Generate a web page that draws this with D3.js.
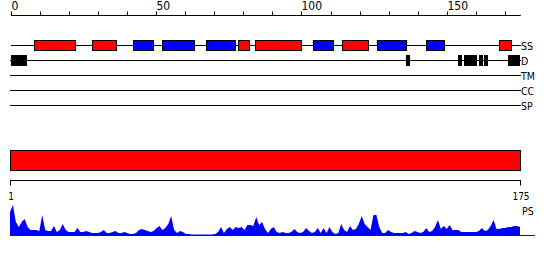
<!DOCTYPE html>
<html><head><meta charset="utf-8">
<script src="https://cdn.jsdelivr.net/npm/d3@7"></script>
<style>
html,body{margin:0;padding:0;background:#fff;}
svg text{font-family:"DejaVu Sans Condensed","DejaVu Sans",sans-serif;fill:#000;}
</style></head>
<body><svg id="c" width="550" height="260"></svg>
<script>
// ---- data ----
const seqLength = 175;
const topTicks = d3.range(0, 171, 10);
const topTickLabels = [0, 50, 100, 150];
const trackNames = ["SS", "D", "TM", "CC", "SP"];
// secondary structure segments (residue start, end, type)
const ssStart = [9, 29, 43, 53, 68, 79, 85, 105, 115, 127, 144, 169];
const ssEnd   = [22, 36, 49, 63, 77, 82, 100, 111, 123, 136, 149, 172];
const ssType  = ["H","H","E","E","E","H","H","E","H","E","E","H"];
// disorder segments
const dStart = [1, 137, 155, 157, 162, 164, 172];
const dEnd   = [5, 137, 155, 160, 162, 164, 175];
// domain bar
const domainStart = 1, domainEnd = 175;
const bottomTickLabels = [1, 175];
// PS profile score per residue
const psScore = [
 24,31,14,9,14,17,9,6,6,6,
 5,21,6,5,5,10,4,6,12,6,
 4,4,4,8,4,4,5,4,3,3,
 3,4,6,3,3,4,5,3,3,4,
 3,2,2,3,6,7,6,5,4,5,
 8,10,6,8,12,20,6,3,5,4,
 2,2,1.5,1.5,1.5,1.5,1.5,1.5,1.5,1.5,
 2,4,9,3,7,9,6,9,8,9,
 6,11,11,10,19,11,14,7,3,7,
 9,4,3,4,3,3,4,7,4,3,
 4,8,5,3,4,8,3,8,3,9,
 4,2,3,12,6,4,10,6,7,12,
 20,12,9,6,21,21,9,3,3,6,
 4,3,3,3,3,4,2,3,5,4,
 3,4,8,4,5,9,16,7,10,7,
 11,6,6,6,4,4,4,4,4,4,
 5,8,5,6,10,16,7,7,8,8,
 9,9,10,10,9
];
const psMax = 31;

// ---- drawing ----
const svg = d3.select("#c");
const xTop = d3.scaleLinear().domain([0, 175.5]).range([11, 520.8]);
const xBot = d3.scaleLinear().domain([1, seqLength]).range([10, 520]);
const trackY = d3.scalePoint().domain(trackNames).range([45, 105]);
const typeColor = {H: "#ff0000", E: "#0000ff"};

// top axis
const gTop = svg.append("g").attr("transform", "translate(0,15.5)");
gTop.append("line").attr("x1", xTop(0)).attr("x2", xTop(175.5)).attr("stroke", "#000");
gTop.selectAll("line.t").data(topTicks).join("line").attr("class", "t")
  .attr("x1", d => Math.round(xTop(d)) + 0.5).attr("x2", d => Math.round(xTop(d)) + 0.5)
  .attr("y1", 0).attr("y2", -4).attr("stroke", "#000");
gTop.selectAll("text").data(topTickLabels).join("text")
  .attr("x", d => Math.round(xTop(d)) + 0.5).attr("y", -5.5)
  .attr("font-size", 12).text(d => d);

// track baselines
svg.selectAll("line.track").data(trackNames).join("line").attr("class", "track")
  .attr("x1", d => d === "SS" ? 11 : 10).attr("x2", 521)
  .attr("y1", d => trackY(d) + 0.5).attr("y2", d => trackY(d) + 0.5)
  .attr("stroke", "#000");
svg.selectAll("text.track").data(trackNames).join("text").attr("class", "track")
  .attr("x", 521).attr("y", d => trackY(d) + 4.5)
  .attr("font-size", 10.5).text(d => d);

// SS boxes
const ss = ssStart.map((s, i) => ({s, e: ssEnd[i], t: ssType[i]}));
svg.selectAll("rect.ss").data(ss).join("rect").attr("class", "ss")
  .attr("x", d => Math.round(xTop(d.s - 1)) + 0.5)
  .attr("width", d => Math.round(xTop(d.e)) - Math.round(xTop(d.s - 1)))
  .attr("y", trackY("SS") - 4.5).attr("height", 10)
  .attr("fill", d => typeColor[d.t]).attr("stroke", "#000");

// disorder boxes
const dis = dStart.map((s, i) => ({s, e: dEnd[i]}));
svg.selectAll("rect.d").data(dis).join("rect").attr("class", "d")
  .attr("x", d => Math.round(xTop(d.s - 1)) + 0.5)
  .attr("width", d => Math.max(2, Math.round(xTop(d.e)) - Math.round(xTop(d.s - 1))))
  .attr("y", trackY("D") - 4.5).attr("height", 10)
  .attr("fill", "#000").attr("stroke", "#000");

// domain bar
svg.append("rect")
  .attr("x", xBot(domainStart) + 0.5).attr("width", xBot(domainEnd) - xBot(domainStart))
  .attr("y", 150.5).attr("height", 20)
  .attr("fill", "#ff0000").attr("stroke", "#000");

// bottom axis
const gBot = svg.append("g").attr("transform", "translate(0,180.5)");
gBot.append("line").attr("x1", xBot(1)).attr("x2", xBot(175) + 1).attr("stroke", "#000");
gBot.selectAll("line.t").data(bottomTickLabels).join("line").attr("class", "t")
  .attr("x1", d => xBot(d) + 0.5).attr("x2", d => xBot(d) + 0.5)
  .attr("y1", 0).attr("y2", 5).attr("stroke", "#000");
gBot.selectAll("text").data(bottomTickLabels).join("text")
  .attr("x", d => xBot(d) + 1).attr("y", 19.5).attr("text-anchor", "middle")
  .attr("font-size", 10).text(d => d);

// PS profile
const yPS = d3.scaleLinear().domain([0, psMax]).range([236, 205]);
const area = d3.area().x((d, i) => xBot(i + 1)).y0(236).y1(d => yPS(d));
svg.append("path").datum(psScore).attr("d", area).attr("fill", "#0000ff");
svg.append("line").attr("x1", 10).attr("x2", 535).attr("y1", 235.5).attr("y2", 235.5)
  .attr("stroke", "#0000ff");
svg.append("text").attr("x", 522).attr("y", 215).attr("font-size", 10.5).text("PS");
</script></body></html>
